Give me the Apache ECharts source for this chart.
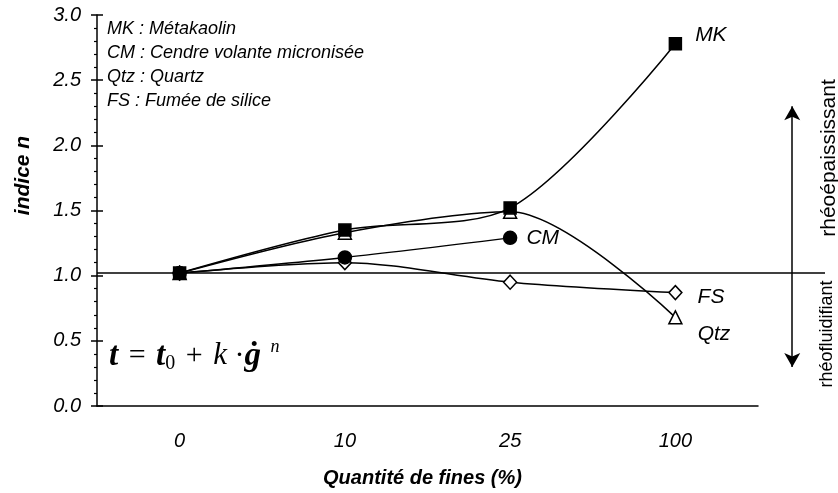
<!DOCTYPE html>
<html>
<head>
<meta charset="utf-8">
<script src="https://cdn.jsdelivr.net/npm/echarts/dist/echarts.min.js"></script>
<style>
html,body{margin:0;padding:0;background:#fff;}
#chart{width:838px;height:493px;}
</style>
</head>
<body>
<div id="chart"></div>
<script>
// quantité de fines (%)
var categories = ['0', '10', '25', '100'];
// indice n par addition
var mkData  = [1.02, 1.35, 1.52, 2.78];
var cmData  = [1.02, 1.14, 1.29, null];
var qtzData = [1.02, 1.33, 1.49, 0.68];
var fsData  = [1.02, 1.10, 0.95, 0.87];
var yTicks = [0, 0.5, 1.0, 1.5, 2.0, 2.5, 3.0];
var seuil = 1.02;
var legendLines = ['MK : Métakaolin', 'CM : Cendre volante micronisée', 'Qtz : Quartz', 'FS : Fumée de silice'];

var FONT = 'Liberation Sans, Arial, sans-serif';

// met l'étiquette sur le dernier point
function withEndLabel(data, name, offset) {
	var last = -1;
	for (var i = 0; i < data.length; i++) {
		if (data[i] != null) last = i;
	}
	var out = [];
	for (var j = 0; j < data.length; j++) {
		if (j == last) {
			out.push({
				value: data[j],
				label: {
					show: true, position: 'right', offset: offset, formatter: name,
					color: '#000', fontSize: 21, fontStyle: 'italic', fontFamily: FONT
				}
			});
		} else {
			out.push(data[j]);
		}
	}
	return out;
}

function makeSeries(name, data, symbol, fill, size, offset) {
	return {
		name: name,
		type: 'line',
		xAxisIndex: 0,
		yAxisIndex: 0,
		smooth: 0.3,
		symbol: symbol,
		symbolSize: size,
		showAllSymbol: true,
		connectNulls: false,
		lineStyle: { color: '#000', width: 1.5 },
		itemStyle: { color: fill, borderColor: '#000', borderWidth: 1.5 },
		data: withEndLabel(data, name, offset)
	};
}

var myChart = echarts.init(document.getElementById('chart'));

var option = {
	animation: false,
	backgroundColor: '#fff',
	grid: [
		{ left: 97, right: 80, top: 15, bottom: 87 },
		{ left: 97, right: 13, top: 15, bottom: 87 }
	],
	xAxis: [
		{
			type: 'category', gridIndex: 0, data: categories, boundaryGap: true,
			axisLine: { onZero: false, lineStyle: { color: '#000', width: 1.5 } },
			axisTick: { length: 6, lineStyle: { color: '#000', width: 1.5 } },
			axisLabel: { color: '#000', fontSize: 20, fontStyle: 'italic', fontFamily: FONT, margin: 25 },
			splitLine: { show: false },
			name: 'Quantité de fines (%)', nameLocation: 'middle', nameGap: 62,
			nameTextStyle: { color: '#000', fontSize: 20, fontStyle: 'italic', fontWeight: 'bold', fontFamily: FONT, padding: [0, 10, 0, 0] }
		},
		{
			type: 'category', gridIndex: 0, data: categories, boundaryGap: true, position: 'bottom',
			axisLine: { show: false, onZero: false },
			axisTick: { inside: true, length: 6, lineStyle: { color: '#000', width: 1.5 } },
			axisLabel: { show: false },
			splitLine: { show: false }
		},
		{ type: 'value', gridIndex: 1, min: 0, max: 100, show: false }
	],
	yAxis: [
		{
			type: 'value', gridIndex: 0, min: yTicks[0], max: yTicks[yTicks.length - 1], interval: 0.5,
			axisLine: { show: true, lineStyle: { color: '#000', width: 1.5 } },
			axisTick: { show: true, length: 6, lineStyle: { color: '#000', width: 1.5 } },
			minorTick: { show: true, splitNumber: 5, length: 3, lineStyle: { color: '#000', width: 1.2 } },
			splitLine: { show: false },
			axisLabel: {
				color: '#000', fontSize: 20, fontStyle: 'italic', fontFamily: FONT, margin: 16,
				formatter: function (v) { return v.toFixed(1); }
			},
			name: 'indice n', nameLocation: 'middle', nameGap: 63,
			nameTextStyle: { color: '#000', fontSize: 21, fontStyle: 'italic', fontWeight: 'bold', fontFamily: FONT, padding: [0, 0, 0, 70] }
		},
		{
			type: 'value', gridIndex: 0, position: 'left', min: 0, max: 3, interval: 0.5,
			axisLine: { show: false },
			axisTick: { show: true, inside: true, length: 6, lineStyle: { color: '#000', width: 1.5 } },
			axisLabel: { show: false },
			splitLine: { show: false }
		},
		{ type: 'value', gridIndex: 1, min: 0, max: 3, show: false }
	],
	series: [
		{
			name: 'ref', type: 'line', xAxisIndex: 2, yAxisIndex: 2, data: [],
			markLine: {
				silent: true, animation: false, symbol: ['none', 'none'],
				label: { show: false },
				lineStyle: { color: '#000', width: 1.5, type: 'solid' },
				data: [
					{ yAxis: seuil },
					[
						{ coord: [95.5, 2.3], symbol: 'arrow', symbolSize: [12, 14] },
						{ coord: [95.5, 0.3], symbol: 'arrow', symbolSize: [12, 14] }
					]
				]
			}
		},
		makeSeries('Qtz', qtzData, 'triangle', '#fff', 13, [10, 17]),
		makeSeries('FS', fsData, 'diamond', '#fff', [13, 14], [10, 5]),
		makeSeries('CM', cmData, 'circle', '#000', 13, [4, 0]),
		makeSeries('MK', mkData, 'rect', '#000', 12, [8, -9])
	],
	graphic: [
		{
			type: 'text', left: 107, top: 17,
			style: {
				text: legendLines.join('\n'), fill: '#000', fontSize: 18, fontStyle: 'italic',
				fontFamily: FONT, lineHeight: 24
			}
		},
		{
			type: 'text', left: 109, top: 338,
			style: {
				text: '{b|t}{op| = }{b|t}{sub|0}{op| + }{i|k}{r| ·}{b|ġ}{sup| n}',
				fill: '#000',
				rich: {
					b: { fontFamily: 'Liberation Serif', fontSize: 33, fontWeight: 'bold', fontStyle: 'italic' },
					op: { fontFamily: 'Liberation Serif', fontSize: 30, padding: [0, 3, 0, 3] },
					r: { fontFamily: 'Liberation Serif', fontSize: 30 },
					i: { fontFamily: 'Liberation Serif', fontSize: 31, fontStyle: 'italic' },
					sub: { fontFamily: 'Liberation Serif', fontSize: 20, verticalAlign: 'bottom', padding: [16, 0, 0, 0] },
					sup: { fontFamily: 'Liberation Serif', fontSize: 18, fontStyle: 'italic', verticalAlign: 'top', padding: [0, 0, 14, 5] }
				}
			}
		},
		{
			type: 'text', x: 829, y: 158, rotation: Math.PI / 2,
			style: { text: 'rhéoépaississant', fill: '#000', fontSize: 21, fontFamily: FONT, align: 'center', verticalAlign: 'middle' }
		},
		{
			type: 'text', x: 827, y: 334, rotation: Math.PI / 2,
			style: { text: 'rhéofluidifiant', fill: '#000', fontSize: 18, fontFamily: FONT, align: 'center', verticalAlign: 'middle' }
		}
	]
};

myChart.setOption(option);
</script>
</body>
</html>
